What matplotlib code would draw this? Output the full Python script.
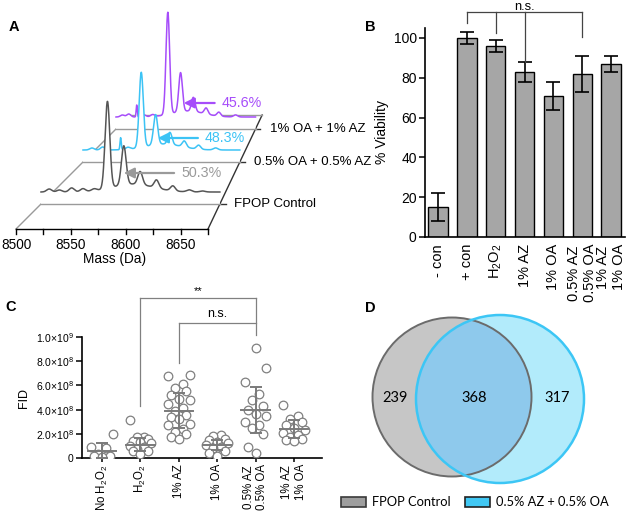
import numpy as np
import matplotlib
matplotlib.use("Agg")
import matplotlib.pyplot as plt
from matplotlib.transforms import Affine2D
from matplotlib.patches import Circle, Patch

plt.rcParams['font.family'] = ['Liberation Sans', 'DejaVu Sans']
plt.rcParams['mathtext.fontset'] = 'custom'
plt.rcParams['mathtext.rm'] = 'Liberation Sans'
plt.rcParams['mathtext.it'] = 'Liberation Sans:italic'
plt.rcParams['mathtext.bf'] = 'Liberation Sans:bold'

W, H = 627, 512

# ---------------- panel A: stacked deconvoluted spectra ----------------
mass_lo, mass_hi = 8500, 8675
mass_labels = [8500, 8550, 8600, 8650]
layer_names = ['FPOP Control', '0.5% OA + 0.5% AZ', '1% OA + 1% AZ']
trace_colors = ['#555555', '#3cc3f5', '#a64dfa']
pct_colors = ['#9a9a9a', '#3cc3f5', '#a64dfa']
pct_labels = ['50.3%', '48.3%', '45.6%']
ox_mass = [8565, 8581, 8597, 8613, 8629]
peak_heights = [[87, 39, 13, 8, 5],
                [75, 30, 12, 6, 4],
                [102, 39, 14, 6, 4]]
hump_heights = [8, 6, 6]
small_bumps = [[(8508, 3), (8518, 2), (8530, 4), (8541, 3), (8552, 2), (8645, 2), (8658, 1)],
               [(8510, 2), (8522, 3), (8542, 12), (8550, 2), (8648, 2)],
               [(8508, 2), (8516, 3), (8526, 12), (8535, 2), (8546, 2), (8650, 2)]]
arrow_tip_mass = [8581, 8583.5, 8585]
arrow_height = [31, 24, 26]
label_mass = [8637, 8636, 8632.5]

# ---------------- panel B: viability ----------------
via_labels = ['- con', '+ con', r'H$_2$O$_2$', '1% AZ', '1% OA',
              '0.5% AZ\n0.5% OA', '1% AZ\n1% OA']
via_mean = [15, 100, 96, 83, 71, 82, 87]
via_err = [7, 3, 3, 5, 7, 9, 4]

# ---------------- panel C: FID (x 1e8) ----------------
fid_labels = [r'No H$_2$O$_2$', r'H$_2$O$_2$', '1% AZ', '1% OA',
              '0.5% AZ\n0.5% OA', '1% AZ\n1% OA']
fid_points = [
    [1.95, 0.95, 0.8, 0.3, 0.2, 0.15, 0.1],
    [3.1, 1.75, 1.7, 1.55, 1.4, 1.3, 1.2, 1.0, 0.9, 0.75, 0.6, 0.55, 0.3],
    [6.85, 6.75, 6.1, 5.75, 5.5, 5.2, 4.85, 4.8, 4.5, 4.1, 3.9, 3.55, 3.4,
     3.2, 2.85, 2.7, 2.4, 2.15, 2.0, 1.75, 1.6],
    [1.9, 1.8, 1.6, 1.5, 1.35, 1.2, 1.05, 0.9, 0.8, 0.6, 0.45, 0.2],
    [9.1, 7.4, 6.25, 5.25, 4.8, 4.3, 4.0, 3.6, 3.5, 3.0, 2.75, 2.5, 2.0, 0.95, 0.45],
    [4.4, 3.45, 3.2, 2.95, 2.7, 2.5, 2.3, 2.1, 1.9, 1.75, 1.6, 1.5, 1.4],
]
fid_mean = [0.6, 1.1, 3.9, 1.1, 4.0, 2.4]
fid_sd = [0.6, 0.55, 1.45, 0.4, 1.9, 0.75]
fid_ticks = [0, 2, 4, 6, 8, 10]
fid_ticklabels = ['0', r'2.0$\times$10$^8$', r'4.0$\times$10$^8$', r'6.0$\times$10$^8$',
                  r'8.0$\times$10$^8$', r'1.0$\times$10$^9$']

# ---------------- panel D: venn ----------------
venn_counts = [239, 368, 317]
venn_names = ['FPOP Control', '0.5% AZ + 0.5% OA']


def px_axes(fig, x0, y0, x1, y1):
    return fig.add_axes([x0 / W, 1 - y1 / H, (x1 - x0) / W, (y1 - y0) / H])


def layer_transform(ax, y_line):
    # perspective floor: left and right edges converge towards the back
    left = 16 + (229 - y_line)
    right = 208 + 0.475 * (229 - y_line)
    sx = (right - left) / (mass_hi - mass_lo)
    return Affine2D().translate(-mass_lo, 0).scale(sx, -1).translate(left, y_line) + ax.transData


def gauss(m, c, h, s):
    return h * np.exp(-(m - c) ** 2 / (2 * s ** 2))


fig = plt.figure(figsize=(W / 100, H / 100), dpi=100)

# ===== A =====
ax = px_axes(fig, 0, 0, 320, 270)
ax.set_xlim(0, 320)
ax.set_ylim(270, 0)
ax.axis('off')

floor_y = [229, 204, 162, 129, 115]
lift = 12
front = layer_transform(ax, floor_y[0])
back = layer_transform(ax, floor_y[-1])

# floor edges
for m_edge, col in [(mass_lo, '#9a9a9a'), (mass_hi, '#333333')]:
    p0 = front.transform((m_edge, 0))
    p1 = back.transform((m_edge, 0))
    p0, p1 = ax.transData.inverted().transform([p0, p1])
    ax.plot([p0[0], p1[0]], [p0[1], p1[1]], color=col, lw=1, zorder=1)
ax.plot([mass_lo, mass_hi], [0, 0], color='#9a9a9a', lw=1, transform=back, zorder=1)

masses = np.linspace(mass_lo, mass_hi, 900)
for i in [2, 1, 0]:
    t = layer_transform(ax, floor_y[i + 1])
    z = 4 - i
    spec = np.zeros_like(masses)
    for c, h in zip(ox_mass, peak_heights[i]):
        spec += gauss(masses, c, h, 2.3)
    spec += gauss(masses, 8590, hump_heights[i], 20)
    for c, h in small_bumps[i]:
        spec += gauss(masses, c, h, 0.7 if abs(h) > 5 else 2.5)
    y = spec + lift
    ax.fill(np.r_[masses, mass_hi, mass_lo], np.r_[y, 0, 0], transform=t,
            facecolor='white', edgecolor='none', zorder=z)
    ax.plot([mass_lo, mass_hi], [0, 0], color='#9a9a9a', lw=1, transform=t, zorder=z + 0.1)
    ax.plot(masses, y, color=trace_colors[i], lw=1.1, transform=t, zorder=z + 0.2)
    # right edge tick + layer name
    ax.plot([mass_hi, mass_hi + 6], [0, 0], color='#333333', lw=1, transform=t, zorder=z)
    xr = t.transform((mass_hi, 0))
    xr = ax.transData.inverted().transform(xr)
    ax.text(xr[0] + 14, xr[1], layer_names[i], fontsize=9.5, ha='left', va='center',
            clip_on=False, zorder=10)
    ax.annotate(pct_labels[i], xy=(arrow_tip_mass[i], arrow_height[i]), xycoords=t,
                xytext=(label_mass[i], arrow_height[i]), textcoords=t,
                color=pct_colors[i], fontsize=10.3, ha='left', va='center', zorder=10,
                arrowprops=dict(arrowstyle='-|>,head_length=0.6,head_width=0.3',
                                color=pct_colors[i], lw=1.6, shrinkA=3, shrinkB=0))

# front mass axis
ax.plot([mass_lo, mass_hi], [0, 0], color='black', lw=1, transform=front, zorder=6)
for m in range(mass_lo, mass_hi + 1, 25):
    ax.plot([m, m], [0, -5], color='black', lw=1, transform=front, zorder=6)
for m in mass_labels:
    ax.text(m, -16, str(m), transform=front, ha='center', va='center', fontsize=9.8,
            clip_on=False)
ax.text(8590, -30, 'Mass (Da)', transform=front, ha='center', va='center', fontsize=9.8)

# ===== B =====
axb = px_axes(fig, 425, 28, 625, 237)
xb = np.arange(len(via_labels))
axb.bar(xb, via_mean, width=0.67, color='#a6a6a6', edgecolor='black', lw=1)
axb.errorbar(xb, via_mean, yerr=via_err, fmt='none', ecolor='black',
             elinewidth=1.2, capsize=5, capthick=1.2)
axb.set_xlim(-0.45, 6.48)
axb.set_ylim(0, 105)
axb.set_yticks([0, 20, 40, 60, 80, 100])
axb.set_xticks(xb)
axb.set_xticklabels(via_labels, rotation=90, fontsize=10.5, va='top', ha='center')
axb.tick_params(axis='x', length=0, pad=5)
axb.tick_params(axis='y', length=4, width=1.1, labelsize=10, pad=2)
axb.set_ylabel('% Viability', fontsize=10, labelpad=3)
for s in ['top', 'right']:
    axb.spines[s].set_visible(False)
for s in ['left', 'bottom']:
    axb.spines[s].set_linewidth(1.2)
br_y = 113
axb.plot([1, 5], [br_y, br_y], color='#444444', lw=0.9, clip_on=False)
for xi, yend in [(1, 107.5), (2, 102.5), (3, 88), (5, 100.5)]:
    axb.plot([xi, xi], [br_y, yend], color='#444444', lw=0.9, clip_on=False)
axb.text(3, 114.2, 'n.s.', ha='center', va='baseline', fontsize=9.3)

# ===== C =====
axc = px_axes(fig, 82, 337, 322, 458)
pattern = [0, -1, 1, -0.5, 0.5, -1.4, 1.4]
for i, pts in enumerate(fid_points):
    order = np.argsort(pts)
    offs = np.zeros(len(pts))
    for rank, j in enumerate(order):
        offs[j] = pattern[rank % len(pattern)] * 0.2
    axc.plot(i + offs, pts, 'o', mfc='white', mec='#808080', mew=0.9, ms=6.2,
             ls='none', zorder=3)
    axc.plot([i - 0.37, i + 0.37], [fid_mean[i]] * 2, color='#7a7a7a', lw=1.4, zorder=4)
axc.errorbar(range(len(fid_mean)), fid_mean, yerr=fid_sd, fmt='none', ecolor='#7a7a7a',
             elinewidth=1.4, capsize=4, capthick=1.4, zorder=4)
axc.set_xlim(-0.52, 5.73)
axc.set_ylim(0, 10)
axc.set_yticks(fid_ticks)
axc.set_yticklabels(fid_ticklabels)
axc.set_xticks(range(len(fid_labels)))
axc.set_xticklabels(fid_labels, rotation=90, fontsize=8.3, va='top', ha='center')
axc.tick_params(axis='x', length=3, width=1.1, pad=1.5)
axc.tick_params(axis='y', length=4, width=1.1, labelsize=7.5, pad=2)
axc.set_ylabel('FID', fontsize=9, labelpad=4)
for s in ['top', 'right']:
    axc.spines[s].set_visible(False)
for s in ['left', 'bottom']:
    axc.spines[s].set_linewidth(1.2)
bc = '#808080'
axc.plot([1, 4], [13.2, 13.2], color=bc, lw=0.9, clip_on=False)
axc.plot([1, 1], [13.2, 4.3], color=bc, lw=0.9, clip_on=False)
axc.plot([4, 4], [13.2, 10.2], color=bc, lw=0.9, clip_on=False)
axc.text(2.5, 13.35, '**', ha='center', va='bottom', fontsize=8)
axc.plot([2, 4], [11.16, 11.16], color=bc, lw=0.9, clip_on=False)
axc.plot([2, 2], [11.16, 7.85], color=bc, lw=0.9, clip_on=False)
axc.text(3, 11.4, 'n.s.', ha='center', va='bottom', fontsize=9)

# ===== D =====
axd = px_axes(fig, 320, 300, 627, 512)
axd.set_xlim(320, 627)
axd.set_ylim(512, 300)
axd.axis('off')
c_gray = Circle((452, 397), 79.5, facecolor='#c6c6c6', edgecolor='none', zorder=1)
c_cyan = Circle((500, 399), 84, facecolor='#b2ebfb', edgecolor='none', zorder=2)
c_both = Circle((500, 399), 84, facecolor='#8ec9ec', edgecolor='none', zorder=3)
axd.add_patch(c_gray)
axd.add_patch(c_cyan)
axd.add_patch(c_both)
c_both.set_clip_path(c_gray)
axd.add_patch(Circle((452, 397), 79.5, facecolor='none', edgecolor='#6b6b6b', lw=1.4, zorder=4))
axd.add_patch(Circle((500, 399), 84, facecolor='none', edgecolor='#3cc6f5', lw=1.8, zorder=5))
venn_font = ['Lato', 'DejaVu Sans']
for xt, v in zip([395, 474, 557], venn_counts):
    axd.text(xt, 398, str(v), ha='center', va='center', fontsize=10.5, family=venn_font,
             zorder=6)
handles = [Patch(facecolor='#9e9e9e', edgecolor='#3a3a3a', lw=1.2),
           Patch(facecolor='#41c8f4', edgecolor='#222222', lw=1.2)]
axd.legend(handles, venn_names, loc='center', bbox_to_anchor=(0.505, 0.045), ncol=2,
           frameon=False, prop={'family': venn_font, 'size': 9.3}, handlelength=1.9,
           handleheight=0.9, handletextpad=0.5, columnspacing=1.1)

# panel letters
for letter, (x, y) in zip('ABCD', [(14, 27), (370, 27), (11, 307), (370, 308)]):
    fig.text(x / W, 1 - y / H, letter, fontsize=10.5, fontweight='bold',
             ha='center', va='center')

fig.savefig('out.png', dpi=100)
